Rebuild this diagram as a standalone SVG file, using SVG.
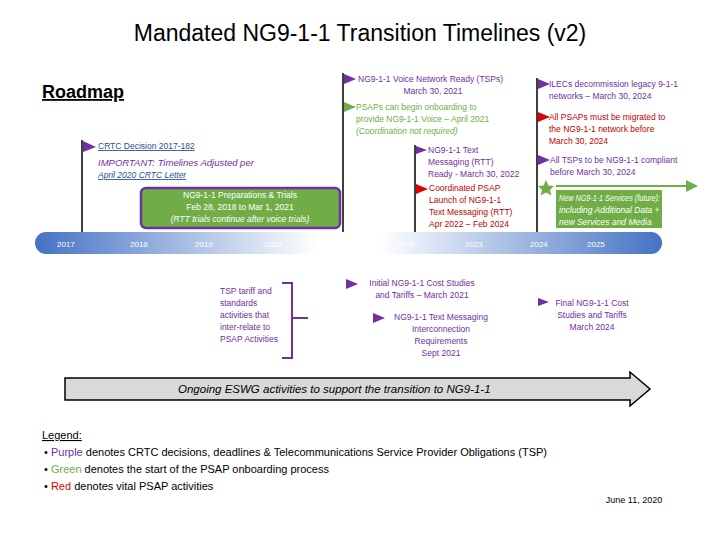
<svg xmlns="http://www.w3.org/2000/svg" width="720" height="540" viewBox="0 0 720 540">
<style>
text{font-family:"Liberation Sans",Arial,sans-serif}
.p{fill:#7030a0;font-size:8.5px}
.g{fill:#70ad47;font-size:8.5px}
.r{fill:#c00000;font-size:8.5px}
.w{fill:#fff;font-size:8.5px}
.y{fill:#fff;font-size:8px}
.vl{stroke:#000;stroke-width:1.5}
</style>
<defs>
<linearGradient id="bar" x1="0" x2="1" y1="0" y2="0">
<stop offset="0" stop-color="#4472c4"/><stop offset="0.45" stop-color="#fff"/><stop offset="0.55" stop-color="#fff"/><stop offset="1" stop-color="#4472c4"/>
</linearGradient>
<marker id="ah" markerWidth="6" markerHeight="6" refX="5" refY="3" orient="auto"><path d="M0,0L6,3L0,6Z" fill="#70ad47"/></marker>
</defs>
<rect width="720" height="540" fill="#fff"/>
<text x="360" y="41" text-anchor="middle" font-size="23" fill="#000">Mandated NG9-1-1 Transition Timelines (v2)</text>
<text x="42" y="98" font-size="18" font-weight="bold" fill="#000" text-decoration="underline">Roadmap</text>

<g id="timeline">
<rect x="35" y="232" width="627" height="22" rx="11" fill="url(#bar)"/>
<g class="y">
<text x="57" y="247">2017</text><text x="130" y="247">2018</text><text x="195" y="247">2019</text><text x="264" y="247">2020</text><text x="332" y="247">2021</text><text x="397" y="247">2022</text><text x="465" y="247">2023</text><text x="530" y="247">2024</text><text x="587" y="247">2025</text>
</g>
</g>

<g id="connectors">
<line class="vl" x1="82" y1="140" x2="82" y2="232"/>
<line class="vl" x1="343" y1="73" x2="343" y2="232"/>
<line class="vl" x1="415" y1="145" x2="415" y2="232"/>
<line class="vl" x1="537" y1="78" x2="537" y2="232"/>
<line x1="556" y1="186" x2="696" y2="186" stroke="#70ad47" stroke-width="2" marker-end="url(#ah)"/>
</g>

<g id="crtc">
<path d="M83,141L96,147L83,152Z" fill="#7030a0"/>
<text x="98" y="149" font-size="8.5" fill="#1f4e9a" text-decoration="underline">CRTC Decision 2017-182</text>
<text x="98" y="166" font-size="9.5" font-style="italic" fill="#7030a0">IMPORTANT: Timelines Adjusted per</text>
<text x="98" y="178" font-size="8.5" font-style="italic" fill="#1f4e9a" text-decoration="underline">April 2020 CRTC Letter</text>
</g>
<g id="trials">
<rect x="141" y="188" width="199" height="40" rx="5" fill="#70ad47" stroke="#7030a0" stroke-width="2.5"/>
<text class="w" x="240" y="198" text-anchor="middle">NG9-1-1 Preparations &amp; Trials</text>
<text class="w" x="240" y="210" text-anchor="middle">Feb 28, 2018 to Mar 1, 2021</text>
<text class="w" x="240" y="222" text-anchor="middle" font-style="italic">(RTT trials continue after voice trials)</text>
</g>
<g id="voice">
<path d="M344,74L356,79L344,84Z" fill="#7030a0"/>
<text class="p" x="358" y="82">NG9-1-1 Voice Network Ready (TSPs)</text>
<text class="p" x="433" y="94" text-anchor="middle">March 30, 2021</text>
</g>
<g id="psap-onboard">
<path d="M344,102L356,107L344,112Z" fill="#70ad47"/>
<text class="g" x="356" y="110">PSAPs can begin onboarding to</text>
<text class="g" x="356" y="122">provide NG9-1-1 Voice – April 2021</text>
<text class="g" x="356" y="134" font-style="italic">(Coordination not required)</text>
</g>
<g id="rtt-ready">
<path d="M416,146L427,150L416,154Z" fill="#7030a0"/>
<text class="p" x="428" y="153">NG9-1-1 Text</text>
<text class="p" x="428" y="165">Messaging (RTT)</text>
<text class="p" x="428" y="177">Ready - March 30, 2022</text>
</g>
<g id="rtt-launch">
<path d="M416,184L428,189L416,194Z" fill="#e00000"/>
<text class="r" x="429" y="191">Coordinated PSAP</text>
<text class="r" x="429" y="203">Launch of NG9-1-1</text>
<text class="r" x="429" y="215">Text Messaging (RTT)</text>
<text class="r" x="429" y="227">Apr 2022 – Feb 2024</text>
</g>
<g id="ilec">
<path d="M538,79L550,84L538,89Z" fill="#7030a0"/>
<text class="p" x="549" y="87">ILECs decommission legacy 9-1-1</text>
<text class="p" x="549" y="99">networks – March 30, 2024</text>
</g>
<g id="psap-migrate">
<path d="M538,112L550,117L538,122Z" fill="#e00000"/>
<text class="r" x="549" y="120">All PSAPs must be migrated to</text>
<text class="r" x="549" y="132">the NG9-1-1 network before</text>
<text class="r" x="549" y="144">March 30, 2024</text>
</g>
<g id="tsp-compliant">
<path d="M538,155L550,160L538,165Z" fill="#7030a0"/>
<text class="p" x="550" y="163">All TSPs to be NG9-1-1 compliant</text>
<text class="p" x="550" y="175">before March 30,  2024</text>
</g>
<g id="future">
<path d="M546,180L548.5,185.5L554,186L550,190L551.5,195.5L546,192.5L540.5,195.5L542,190L538,186L543.5,185.5Z" fill="#70ad47"/>
<rect x="556" y="190" width="106" height="38" fill="#70ad47"/>
<text class="w" x="559" y="201" font-size="7.6px" font-style="italic" textLength="101" lengthAdjust="spacingAndGlyphs">New NG9-1-1 Services (future):</text>
<text class="w" x="559" y="213" font-size="7.6px" font-style="italic">including Additional Data +</text>
<text class="w" x="559" y="225" font-size="7.6px" font-style="italic">new Services and Media</text>
</g>
<g id="tsp-tariff">
<text class="p" x="220" y="294">TSP tariff and</text>
<text class="p" x="220" y="306">standards</text>
<text class="p" x="220" y="318">activities that</text>
<text class="p" x="220" y="330">inter-relate to</text>
<text class="p" x="220" y="342">PSAP Activities</text>
<path d="M282,283H292V358H282M292,318H308" fill="none" stroke="#7030a0" stroke-width="2"/>
</g>
<g id="initial-cost">
<path d="M346,279L358,284L346,289Z" fill="#7030a0"/>
<text class="p" x="422" y="286" text-anchor="middle">Initial NG9-1-1 Cost Studies</text>
<text class="p" x="422" y="298" text-anchor="middle">and Tariffs – March 2021</text>
</g>
<g id="text-interconnect">
<path d="M373,313L385,318L373,323Z" fill="#7030a0"/>
<text class="p" x="441" y="320" text-anchor="middle">NG9-1-1 Text Messaging</text>
<text class="p" x="441" y="332" text-anchor="middle">Interconnection</text>
<text class="p" x="441" y="344" text-anchor="middle">Requirements</text>
<text class="p" x="441" y="356" text-anchor="middle">Sept 2021</text>
</g>
<g id="final-cost">
<path d="M538,298L549,302L538,306Z" fill="#7030a0"/>
<text class="p" x="592" y="306" text-anchor="middle">Final NG9-1-1 Cost</text>
<text class="p" x="592" y="318" text-anchor="middle">Studies and Tariffs</text>
<text class="p" x="592" y="330" text-anchor="middle">March 2024</text>
</g>
<g id="eswg">
<path d="M65,378H630V372L650,389L630,406V400H65Z" fill="#d9d9d9" stroke="#000" stroke-width="1.5"/>
<text x="178" y="393" font-size="11.5" font-style="italic" fill="#000">Ongoing ESWG activities to support the transition to NG9-1-1</text>
</g>
<g id="legend" font-size="11">
<text x="42" y="439" font-size="11" fill="#000" text-decoration="underline">Legend:</text>
<text x="44" y="456" font-size="11" fill="#000">•  <tspan fill="#7030a0">Purple</tspan> denotes CRTC decisions, deadlines &amp; Telecommunications Service Provider Obligations (TSP)</text>
<text x="44" y="473" font-size="11" fill="#000">•  <tspan fill="#70ad47">Green</tspan> denotes the start of the PSAP onboarding process</text>
<text x="44" y="490" font-size="11" fill="#000">•  <tspan fill="#e00000">Red</tspan> denotes vital PSAP activities</text>
</g>
<text x="634" y="503" text-anchor="middle" font-size="9" fill="#000">June 11, 2020</text>
</svg>
